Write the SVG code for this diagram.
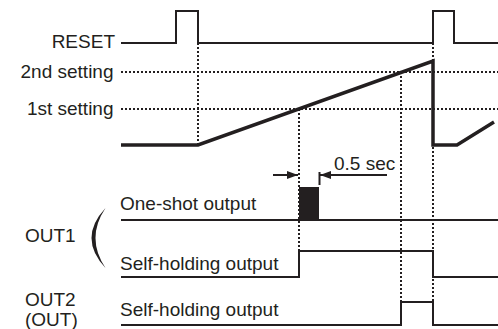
<svg xmlns="http://www.w3.org/2000/svg" width="498" height="329" viewBox="0 0 498 329">
<defs>
<style>
.t{font-family:"Liberation Sans",Arial,sans-serif;font-size:19px;fill:#231f20}
.e{text-anchor:end}
.ln{fill:none;stroke:#231f20;stroke-width:2}
.th{fill:none;stroke:#231f20;stroke-width:3.5}
.dt{fill:none;stroke:#231f20;stroke-width:2;stroke-dasharray:2 2}
</style>
<marker id="ah" viewBox="0 0 11 8" refX="11" refY="4" markerWidth="11" markerHeight="8" markerUnits="userSpaceOnUse" orient="auto">
<path d="M0,0 L11,4 L0,8 Z" fill="#231f20"/>
</marker>
</defs>
<rect width="498" height="329" fill="#fff"/>
<g id="labels">
<text class="t e" x="115" y="48">RESET</text>
<text class="t e" x="113.5" y="78">2nd setting</text>
<text class="t e" x="113.5" y="115">1st setting</text>
<text class="t" x="120" y="210">One-shot output</text>
<text class="t" x="120" y="270">Self-holding output</text>
<text class="t" x="120" y="316">Self-holding output</text>
<text class="t" x="25" y="242">OUT1</text>
<text class="t" x="25" y="306">OUT2</text>
<text class="t" x="25" y="326">(OUT)</text>
<text class="t" x="334" y="170">0.5 sec</text>
<path d="M105.5,208 Q77.5,238 105.5,268 Q85.5,238 105.5,208 Z" fill="#231f20"/>
</g>
<g id="connectors">
<path class="dt" d="M121,72 H498 M121,109 H498"/>
<path class="dt" d="M198,43 V145 M299,109 V251 M401,72 V302 M433,43 V302"/>
<path class="ln" d="M121,43 H176 V11 H198 V43 H433 V11 H454 V43 H498"/>
<path class="th" d="M121,145 H198 L433,61 V145 H457 L494,122"/>
<path class="ln" d="M121,220 H498"/>
<rect x="299" y="187" width="20" height="33" fill="#231f20"/>
<path class="ln" d="M121,277 H299 V251 H433 V277 H498"/>
<path class="ln" d="M121,325 H401 V302 H433 V325 H498"/>
<path class="ln" stroke-width="1.5" d="M273,175 H298" marker-end="url(#ah)"/>
<path class="ln" stroke-width="1.5" d="M387,175 H320" marker-end="url(#ah)"/>
<path class="ln" stroke-width="1.5" d="M319.5,172 V185"/>
</g>
</svg>
